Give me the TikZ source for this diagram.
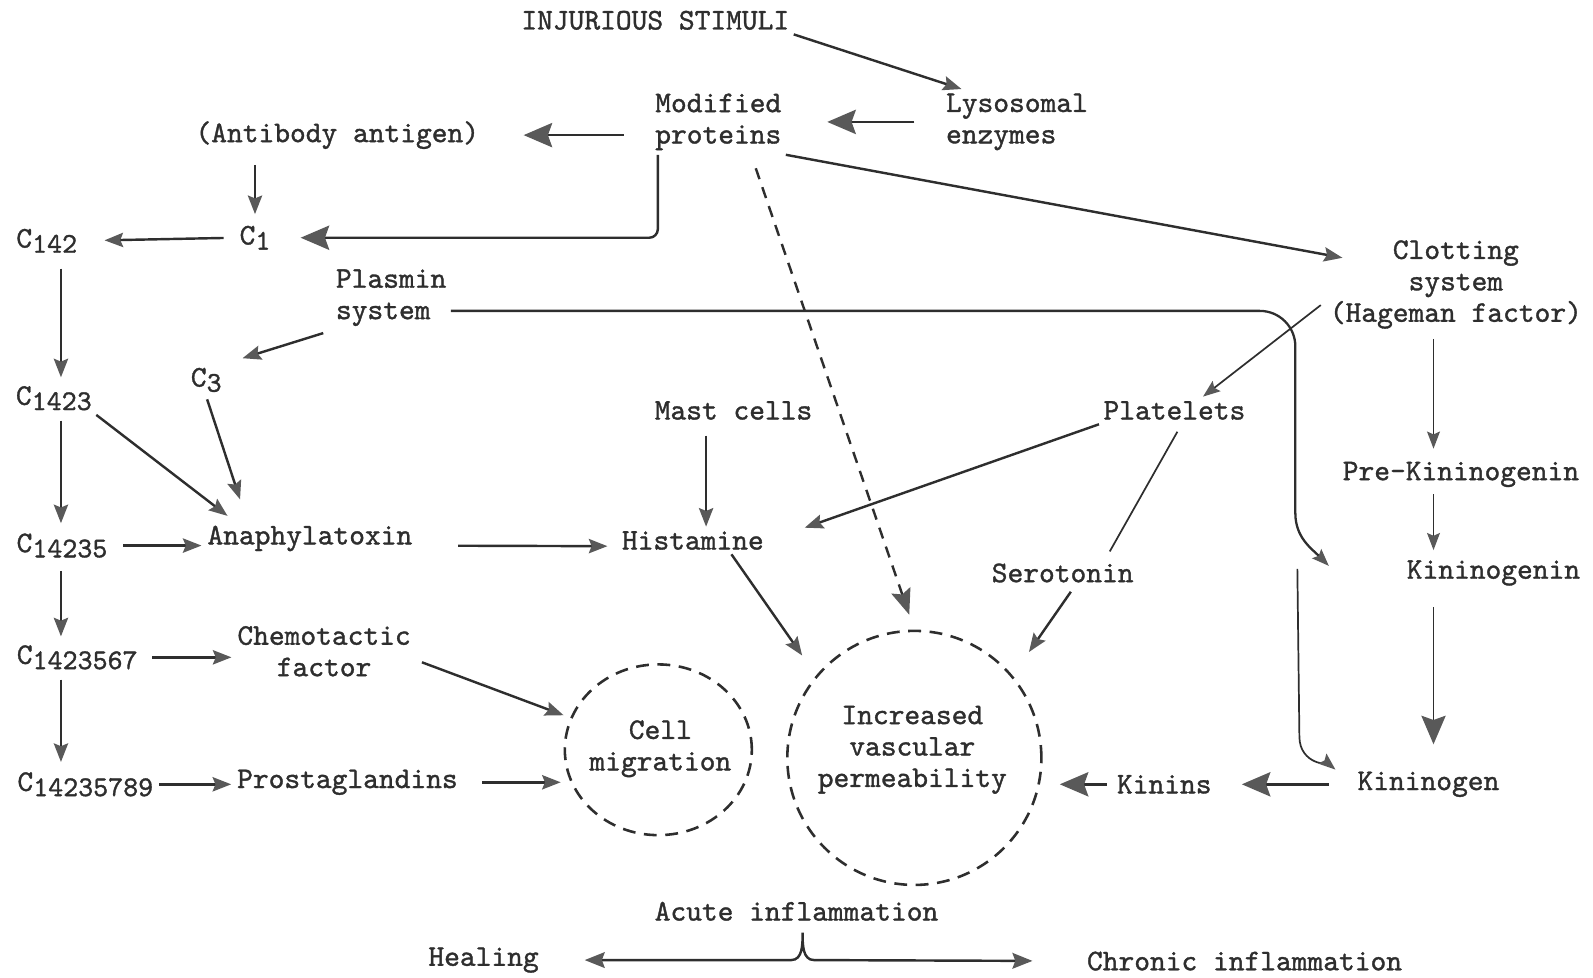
\documentclass[tikz,border=0pt]{standalone}
\usepackage{fontspec}
\usetikzlibrary{arrows.meta,calc,positioning,shapes.geometric}
\newfontfamily\twfont{lmmono10-regular.otf}[FakeBold=1.2]
\definecolor{ink}{gray}{0.18}
\definecolor{tipgray}{gray}{0.35}
\newcommand{\tw}{\twfont\fontsize{21}{22}\selectfont}
\newcommand{\Cs}[1]{C\raisebox{-0.4ex}{\fontsize{20}{20}\selectfont #1}}
\tikzstyle{lbl} = [font=\tw, text=ink, inner sep=3pt]
\tikzstyle{arrow} = [draw=ink, line width=1.7pt, -{Stealth[length=13pt,width=10pt,inset=2pt,color=tipgray]}]
\tikzstyle{bigarrow} = [arrow, -{Stealth[length=20pt,width=17pt,inset=3pt,color=tipgray]}]
\tikzstyle{bareline} = [draw=ink, line width=1.2pt]
\tikzstyle{thinarrow} = [bareline, -{Stealth[length=12pt,width=9pt,inset=2pt,color=tipgray]}]
\tikzstyle{zone} = [draw=ink, line width=1.8pt, dash pattern=on 9pt off 6pt]

\begin{document}
\begin{tikzpicture}[x=0.025cm,y=-0.025cm]
\useasboundingbox (0,0) rectangle (1568,962);
% complement side
\node (inj) [lbl] at (645,20) {INJURIOUS STIMULI};
\node (mod) [lbl, align=left] at (707,120) {Modified\\proteins};
\node (lys) [lbl, align=left] at (1001,120) {Lysosomal\\enzymes};
\node (ab) [lbl] at (332,133) {(Antibody antigen)};
\node (c1) [lbl] at (251,234) {\Cs{1}};
\node (c142) [lbl] at (46,237) {\Cs{142}};
\node (pls) [lbl, align=left] at (385,293) {Plasmin\\system};
\node (c3) [lbl] at (203,374) {\Cs{3}};
\node (c1423) [lbl] at (53,392) {\Cs{1423}};
\node (c14235) [lbl] at (61,537) {\Cs{14235}};
\node (ana) [lbl] at (305,530) {Anaphylatoxin};
\node (c1423567) [lbl] at (76,647) {\Cs{1423567}};
\node (chem) [lbl, align=center] at (319,641) {Chemotactic\\factor};
\node (c14235789) [lbl] at (84,772) {\Cs{14235789}};
\node (pros) [lbl] at (342,770) {Prostaglandins};
% middle
\node (mast) [lbl] at (722,404) {Mast cells};
\node (his) [lbl] at (682,532) {Histamine};
\node (plt) [lbl] at (1156,404) {Platelets};
\node (ser) [lbl] at (1046,564) {Serotonin};
\node (cell) [zone, ellipse, minimum width=4.6cm, minimum height=4.2cm] at (648,738) {};
\node (celltxt) [lbl, align=center] at (650,737) {Cell\\migration};
\node (ivp) [zone, circle, minimum size=6.25cm] at (900,746) {};
\node (ivptxt) [lbl, align=center] at (898,738) {Increased\\vascular\\permeability};
% kinin side
\node (clot) [lbl, align=center] at (1433,280) {Clotting\\system\\(Hageman factor)};
\node (prek) [lbl] at (1438,467) {Pre-Kininogenin};
\node (kgn) [lbl] at (1470,564) {Kininogenin};
\node (kinogen) [lbl] at (1406,772) {Kininogen};
\node (kinins) [lbl] at (1146,772) {Kinins};
% outcome
\node (acute) [lbl] at (784,897) {Acute inflammation};
\node (heal) [lbl] at (476,945) {Healing};
\node (chron) [lbl] at (1225,946) {Chronic inflammation};

\coordinate (ccol) at (60,0);
\coordinate (kcol) at (1411,0);
\coordinate (mcol) at (695,0);
\coordinate (hub) at (1275,306);
\coordinate (hubdown) at (1275,505);
\coordinate (kgtip) at (1308,557);
\coordinate (drop) at (1277,560);
\coordinate (dropdown) at (1279,725);
\coordinate (cusp) at (790,918);

\draw[arrow] (inj.south east) -- ([xshift=14pt]lys.north west);
\draw[bigarrow, shorten <=19pt, shorten >=29pt] (lys.west) -- (mod.east);
\draw[bigarrow, shorten <=19pt, shorten >=28pt] (mod.west |- ab.east) -- (ab.east);
\draw[arrow, shorten <=8pt, shorten >=5pt] (ab.south -| c1.north) -- (c1.north);
\draw[bigarrow, rounded corners=6pt, shorten >=18pt] ([xshift=5pt]mod.south west) |- (c1.east);
\draw[arrow, shorten <=8pt, shorten >=16pt] (c1.west) -- (c142.east);
\draw[arrow, shorten >=3pt] (mod.south east) -- ([xshift=15pt,yshift=-16pt]clot.north west);
\draw[arrow, dash pattern=on 8pt off 6pt, -{Stealth[length=18pt,width=14pt,inset=3pt,color=tipgray]}, shorten <=10pt, shorten >=11pt] ([xshift=23pt]mod.south) -- (ivp.north);

% complement cascade
\draw[arrow, shorten <=8pt, shorten >=3pt] (c142.south -| ccol) -- (c1423.north -| ccol);
\draw[arrow, shorten <=4pt, shorten >=4pt] (c1423.south -| ccol) -- (c14235.north -| ccol);
\draw[arrow, shorten <=6pt, shorten >=3pt] (c14235.south -| ccol) -- (c1423567.north -| ccol);
\draw[arrow, shorten <=4pt, shorten >=4pt] (c1423567.south -| ccol) -- (c14235789.north -| ccol);
\draw[arrow, shorten <=6pt, shorten >=12pt] (pls.south west) -- (c3.north east);
\draw[arrow, shorten >=6pt] (c1423.south east) -- ([xshift=22pt]ana.north west);
\draw[arrow, shorten <=2pt, shorten >=16pt] (c3.south) -- ([xshift=31pt]ana.north west);
\draw[arrow, shorten <=8pt, shorten >=1pt] (c14235.east) -- (ana.west |- c14235.east);
\draw[arrow, shorten <=7pt, shorten >=1pt] (c1423567.east) -- (chem.west |- c1423567.east);
\draw[arrow, shorten <=1pt, shorten >=1pt] (c14235789.east) -- (pros.west |- c14235789.east);
\draw[arrow, shorten <=29pt, shorten >=7pt] ([yshift=-5pt]ana.east) -- ([yshift=-4pt]his.west);
\draw[arrow, shorten <=5pt, shorten >=5pt] ([yshift=-6pt]chem.east) -- (cell.160);
\draw[arrow, shorten <=14pt, shorten >=2pt] (pros.east) -- (cell.west |- pros.east);

% vascular side
\draw[arrow, shorten <=8pt] (mast.south -| mcol) -- (his.north -| mcol);
\draw[arrow, shorten >=17pt] ([xshift=27pt]his.south) -- (ivp.140);
\draw[arrow, shorten >=27pt] (plt.south west) -- (his.east);
\draw[bareline, shorten <=6pt, shorten >=6pt] ([xshift=5pt]plt.south) -- ([xshift=30pt]ser.north);
\draw[arrow, shorten <=4pt, shorten >=20pt] ([xshift=8pt]ser.south) -- (ivp.40);
\draw[thinarrow, shorten <=4pt] ([yshift=-12pt]clot.west) -- ([xshift=20pt]plt.north);

% kinin system
\draw[thinarrow, shorten <=4pt, shorten >=6pt] (clot.south -| kcol) -- (prek.north -| kcol);
\draw[thinarrow, shorten <=2pt, shorten >=4pt] (prek.south -| kcol) -- (kgn.north -| kcol);
\draw[bigarrow, line width=1.2pt, shorten <=12pt, shorten >=16pt] (kgn.south -| kcol) -- (kinogen.north -| kcol);
\draw[bigarrow, shorten <=17pt, shorten >=18pt] (kinogen.west) -- (kinins.east);
\draw[bigarrow, shorten <=4pt, shorten >=12pt] (kinins.west) -- (ivp.east |- kinins.west);
\draw[thinarrow, line width=1.6pt] (pls.east |- hub) -- ($(hub)+(-35,0)$) to[out=0,in=90] ($(hub)+(0,35)$) -- (hubdown) to[out=-90,in=135] (kgtip);
\draw[thinarrow, shorten >=16pt] (drop) -- (dropdown) to[out=-90,in=140] (kinogen.west);

% outcome
\draw[arrow, {Stealth[length=14pt,width=11pt,inset=2pt,color=tipgray]}-{Stealth[length=14pt,width=11pt,inset=2pt,color=tipgray]}, shorten <=29pt, shorten >=35pt] (heal.east) -- ([xshift=-8pt]cusp |- heal.east) to[out=0,in=-90] (cusp) to[out=-90,in=180] ([xshift=8pt]cusp |- heal.east) -- (chron.west);
\end{tikzpicture}
\end{document}
